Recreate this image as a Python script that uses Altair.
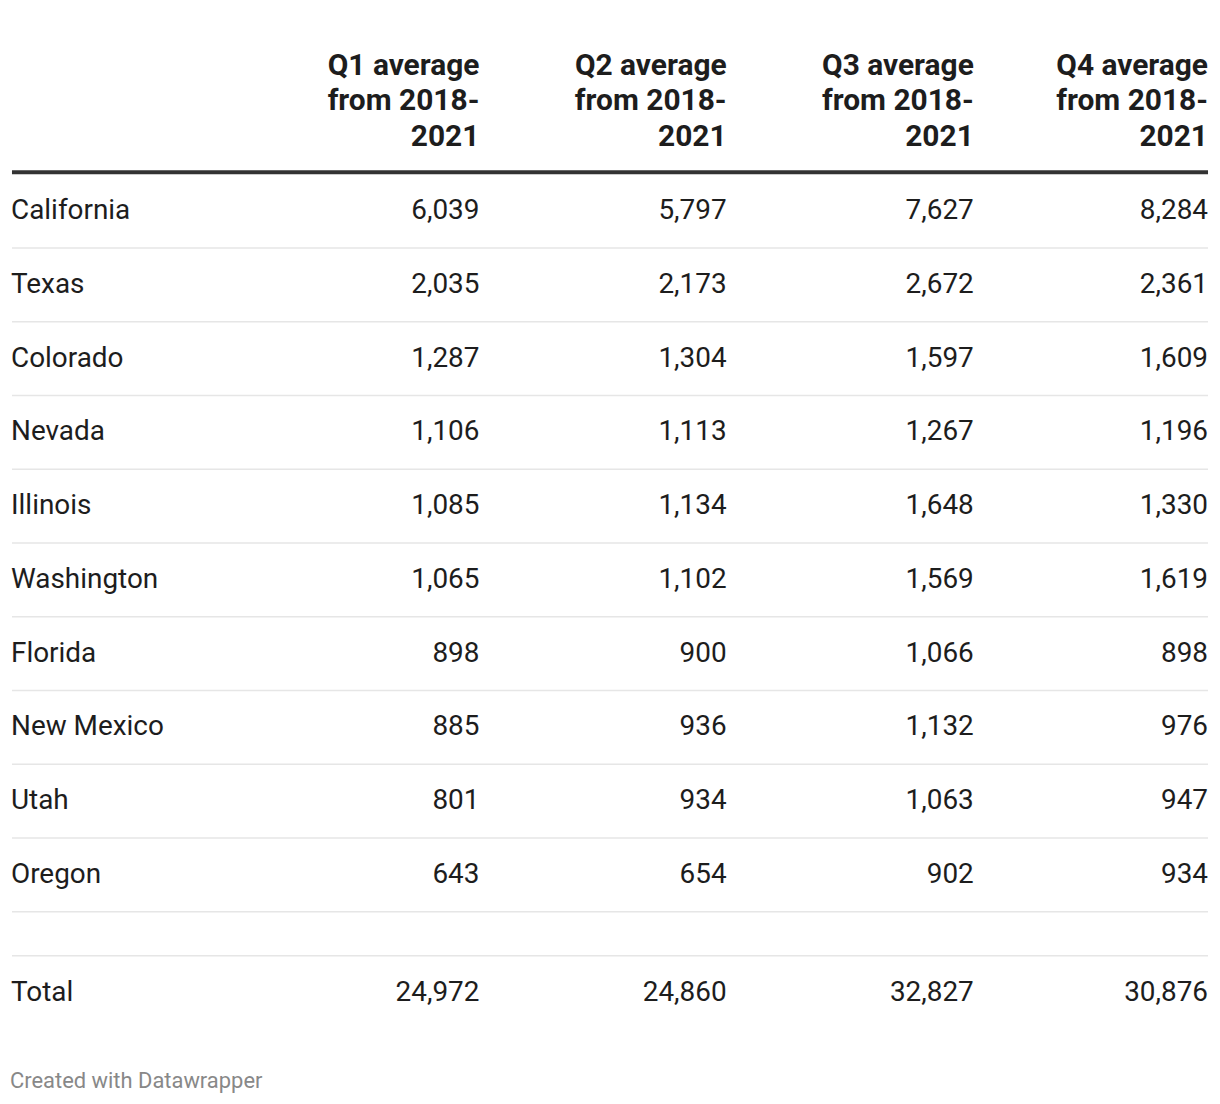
import altair as alt
import pandas as pd

# ---- data ----
states = ["California", "Texas", "Colorado", "Nevada", "Illinois",
          "Washington", "Florida", "New Mexico", "Utah", "Oregon"]
q1 = [6039, 2035, 1287, 1106, 1085, 1065, 898, 885, 801, 643]
q2 = [5797, 2173, 1304, 1113, 1134, 1102, 900, 936, 934, 654]
q3 = [7627, 2672, 1597, 1267, 1648, 1569, 1066, 1132, 1063, 902]
q4 = [8284, 2361, 1609, 1196, 1330, 1619, 898, 976, 947, 934]
total_label = "Total"
totals = [24972, 24860, 32827, 30876]
headers = [
    "Q1 average|from 2018-|2021",
    "Q2 average|from 2018-|2021",
    "Q3 average|from 2018-|2021",
    "Q4 average|from 2018-|2021",
]
footer = "Created with Datawrapper"

# ---- tables built from the lists ----
quarters = [q1, q2, q3, q4]
body_rows = []
for ci, col in enumerate(quarters, start=1):
    for s, v in zip(states, col):
        body_rows.append({"state": s, "col": ci, "value": v})
body_df = pd.DataFrame(body_rows)
state_df = pd.DataFrame({"state": states})
total_df = pd.DataFrame({"state": [total_label] * 4, "col": [1, 2, 3, 4], "value": totals})
total_lab_df = pd.DataFrame({"state": [total_label]})
header_df = pd.DataFrame({"row": ["head"] * 4, "col": [1, 2, 3, 4], "label": headers})
header_row_df = pd.DataFrame({"row": ["head"]})

FONT = "Roboto"
TXT = "#1d1d1d"
FS = 28
HFS = 30
W = 1200


def xscale():
    return alt.Scale(domain=[0, 1, 2, 3, 4], range=[0, 469, 717, 965, W],
                     type="linear", nice=False, zero=False)


# ---- header ----
yhead = alt.Scale(domain=["head"], paddingInner=0, paddingOuter=0)
head_text = alt.Chart(header_df).mark_text(
    align="right", baseline="top", lineBreak="|", lineHeight=36,
    font=FONT, fontSize=HFS, fontWeight="bold", color=TXT
).encode(
    x=alt.X("col:Q", scale=xscale(), axis=None),
    y=alt.Y("row:N", scale=yhead, axis=None, bandPosition=0),
    text="label:N",
)
head_rule = alt.Chart(header_row_df).mark_rule(color="#333333", strokeWidth=4).encode(
    y=alt.Y("row:N", scale=yhead, axis=None, bandPosition=1),
)
header = alt.layer(head_text, head_rule).properties(width=W, height=122)

# ---- body ----
ybody = alt.Scale(domain=states, paddingInner=0, paddingOuter=0)

body_numbers = alt.Chart(body_df).mark_text(
    align="right", baseline="middle", font=FONT, fontSize=FS, color=TXT
).encode(
    x=alt.X("col:Q", scale=xscale(), axis=None),
    y=alt.Y("state:N", scale=ybody, axis=None),
    text=alt.Text("value:Q", format=",d"),
)
body_labels = alt.Chart(state_df).mark_text(
    align="left", baseline="middle", font=FONT, fontSize=FS, color=TXT, dx=-1
).encode(
    x=alt.X(datum=0, type="quantitative", scale=xscale(), axis=None),
    y=alt.Y("state:N", scale=ybody, axis=None),
    text="state:N",
)
body_rules = alt.Chart(state_df).mark_rule(color="#e6e6e6", strokeWidth=1.5).encode(
    y=alt.Y("state:N", scale=ybody, axis=None, bandPosition=1),
)
body = alt.layer(body_rules, body_labels, body_numbers).properties(width=W, height=740)

# ---- total ----
ytot = alt.Scale(domain=[total_label], paddingInner=0, paddingOuter=0)
tot_numbers = alt.Chart(total_df).mark_text(
    align="right", baseline="middle", font=FONT, fontSize=FS, color=TXT
).encode(
    x=alt.X("col:Q", scale=xscale(), axis=None),
    y=alt.Y("state:N", scale=ytot, axis=None),
    text=alt.Text("value:Q", format=",d"),
)
tot_label = alt.Chart(total_lab_df).mark_text(
    align="left", baseline="middle", font=FONT, fontSize=FS, color=TXT, dx=-1
).encode(
    x=alt.X(datum=0, type="quantitative", scale=xscale(), axis=None),
    y=alt.Y("state:N", scale=ytot, axis=None),
    text="state:N",
)
tot_rule = alt.Chart(total_lab_df).mark_rule(color="#e6e6e6", strokeWidth=1.5).encode(
    y=alt.Y("state:N", scale=ytot, axis=None, bandPosition=0),
)
total = alt.layer(tot_rule, tot_label, tot_numbers).properties(width=W, height=74)

top = alt.vconcat(header, body, spacing=0)

chart = alt.vconcat(top, total, spacing=42).properties(
    title=alt.TitleParams(footer, orient="bottom", anchor="start", font=FONT,
                          fontSize=22, fontWeight="normal", color="#888888", offset=42),
    padding={"left": 2, "top": 41, "right": 2, "bottom": 0},
).configure_view(stroke=None)

chart.save("out.html", embed_options={"renderer": "svg", "actions": False})
